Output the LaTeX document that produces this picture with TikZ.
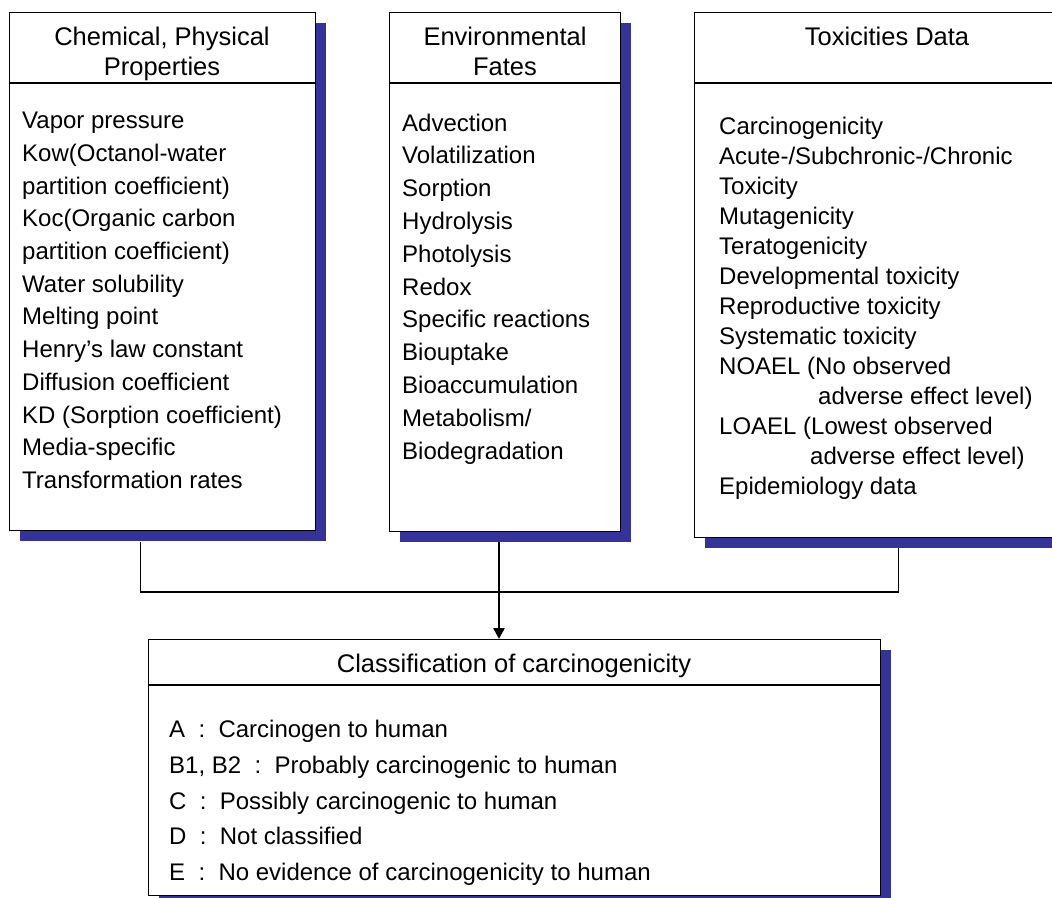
\documentclass[tikz,border=0pt]{standalone}
\usepackage{fontspec}
\setmainfont{Liberation Sans}
\definecolor{shadowblue}{RGB}{51, 51, 153}
\usetikzlibrary{arrows.meta, calc, shadows}

\tikzset{
  infobox/.style={draw, line width=1.1pt, fill=white, inner sep=0pt, anchor=north west,
    drop shadow={shadow xshift=10pt, shadow yshift=-10pt, fill=shadowblue, opacity=1}},
  boxtitle/.style={font=\fontsize{25.5}{30}\selectfont, align=center, inner sep=0pt},
  boxbody/.style={inner sep=0pt, anchor=north west, align=left},
}

\begin{document}
\begin{tikzpicture}[x=1pt, y=-1pt]
  \useasboundingbox (0,0) rectangle (1052,897);
  \clip (0,0) rectangle (1052,897);

  \node[infobox, minimum width=306pt, minimum height=518pt] (chem) at (9,12) {};
  \node[infobox, minimum width=231pt, minimum height=519pt] (env) at (389,12) {};
  \node[infobox, minimum width=386pt, minimum height=525pt] (tox) at (694,12) {};
  \node[infobox, minimum width=732pt, minimum height=256pt] (cls) at (148,639) {};

  \draw[line width=1.1pt] ([yshift=-71pt]chem.north west) -- ([yshift=-71pt]chem.north east);
  \draw[line width=1.1pt] ([yshift=-71pt]env.north west) -- ([yshift=-71pt]env.north east);
  \draw[line width=1.1pt] ([yshift=-71pt]tox.north west) -- ([yshift=-71pt]tox.north east);
  \draw[line width=1.1pt] ([yshift=-46pt]cls.north west) -- ([yshift=-46pt]cls.north east);

  \node[boxtitle, anchor=north] (chemtitle) at (162,27) {Chemical, Physical\\Properties};
  \node[boxtitle, anchor=north] (envtitle) at (505,27) {Environmental\\Fates};
  \node[boxtitle, anchor=base] (toxtitle) at (887,45) {Toxicities Data};
  \node[boxtitle, anchor=base] (clstitle) at (514,672) {Classification of carcinogenicity};

  \node[boxbody, font=\fontsize{24}{32.7}\selectfont] (chembody) at (22,112)
    {Vapor pressure\\Kow(Octanol-water\\partition coefficient)\\Koc(Organic carbon\\
     partition coefficient)\\Water solubility\\Melting point\\Henry’s law constant\\
     Diffusion coefficient\\KD (Sorption coefficient)\\Media-specific\\Transformation rates};
  \node[boxbody, font=\fontsize{24}{32.8}\selectfont] (envbody) at (402,113.5)
    {Advection\\Volatilization\\Sorption\\Hydrolysis\\Photolysis\\Redox\\Specific reactions\\
     Biouptake\\Bioaccumulation\\Metabolism/\\Biodegradation};
  \node[boxbody, font=\fontsize{24}{30}\selectfont] (toxbody) at (719,116.5)
    {Carcinogenicity\\Acute-/Subchronic-/Chronic\\Toxicity\\Mutagenicity\\Teratogenicity\\
     Developmental toxicity\\Reproductive toxicity\\Systematic toxicity\\NOAEL (No observed\\
     \hspace*{99pt}adverse effect level)\\LOAEL (Lowest observed\\
     \hspace*{91pt}adverse effect level)\\Epidemiology data};
  \node[boxbody, font=\fontsize{24}{35.7}\selectfont] (clsbody) at (169,720)
    {A~~:~~Carcinogen to human\\B1, B2~~:~~Probably carcinogenic to human\\
     C~~:~~Possibly carcinogenic to human\\D~~:~~Not classified\\
     E~~:~~No evidence of carcinogenicity to human};

  \coordinate (junction) at (499,592);
  \draw[line width=1.2pt] ([xshift=-22pt,yshift=-11pt]chem.south) |- (junction)
    -| ([xshift=11pt,yshift=-10pt]tox.south);
  \draw[line width=2.4pt, -{Triangle[length=11pt, width=11pt]}]
    ($(env.south -| junction)+(0,10)$) -- (junction |- cls.north);
\end{tikzpicture}
\end{document}
